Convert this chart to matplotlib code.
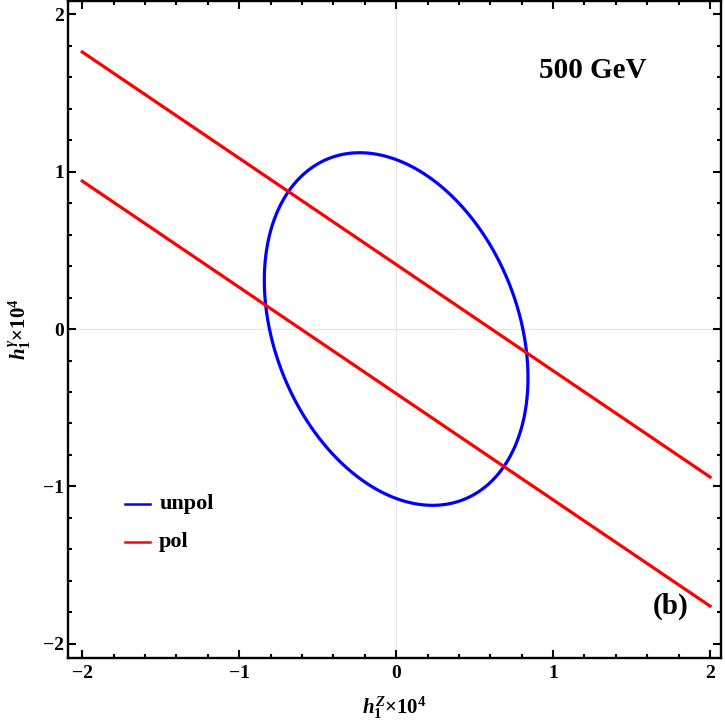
import numpy as np
import matplotlib
matplotlib.use('Agg')
import matplotlib.pyplot as plt
from matplotlib.ticker import MultipleLocator

plt.rcParams['font.family'] = ['Liberation Serif', 'DejaVu Serif']
plt.rcParams['font.weight'] = 'bold'
plt.rcParams['mathtext.fontset'] = 'custom'
plt.rcParams['mathtext.rm'] = 'Liberation Serif:bold'
plt.rcParams['mathtext.it'] = 'Liberation Serif:bold:italic'
plt.rcParams['mathtext.bf'] = 'Liberation Serif:bold'

# unpolarized 1-sigma ellipse (center, spreads, cross term)
ell_center = [0.0, 0.0]
ell_sxx = 0.84 ** 2
ell_syy = 1.12 ** 2
ell_sxy = -0.26

# polarized band edges (straight lines), endpoints at x = -2 and x = 2
pol_x = [-2.0, 2.0]
pol_upper_y = [1.76, -0.94]
pol_lower_y = [0.94, -1.76]

xticks = [-2, -1, 0, 1, 2]
yticks = [-2, -1, 0, 1, 2]

fig = plt.figure(figsize=(7.25, 7.25), dpi=100)
ax = fig.add_axes([0.094, 0.0924, 0.9005, 0.906])

ax.axhline(0, color='#e6e6e6', lw=0.8, zorder=0)
ax.axvline(0, color='#e6e6e6', lw=0.8, zorder=0)

# ellipse drawn as a contour of the quadratic form
gx = np.linspace(-2.1, 2.1, 600)
gy = np.linspace(-2.1, 2.1, 600)
X, Y = np.meshgrid(gx, gy)
S = np.array([[ell_sxx, ell_sxy], [ell_sxy, ell_syy]])
Q = np.linalg.inv(S)
dx = X - ell_center[0]
dy = Y - ell_center[1]
F = Q[0, 0] * dx ** 2 + 2 * Q[0, 1] * dx * dy + Q[1, 1] * dy ** 2
ax.contour(X, Y, F, levels=[1.0], colors=['#0000ff'], linewidths=2.3)

ax.plot(pol_x, pol_upper_y, color='#ff0000', lw=2.3)
ax.plot(pol_x, pol_lower_y, color='#ff0000', lw=2.3)

ax.set_xlim(-2.09, 2.07)
ax.set_ylim(-2.09, 2.083)
ax.set_xticks(xticks)
ax.set_yticks(yticks)
ax.set_xticklabels(['\u22122', '\u22121', '0', '1', '2'])
ax.set_yticklabels(['\u22122', '\u22121', '0', '1', '2'])
ax.xaxis.set_minor_locator(MultipleLocator(0.2))
ax.yaxis.set_minor_locator(MultipleLocator(0.2))
ax.tick_params(which='both', direction='in', top=True, right=True, width=1.5,
               labelsize=14)
ax.tick_params(which='major', length=5.5)
ax.tick_params(axis='x', which='major', pad=5)
ax.tick_params(axis='y', which='major', pad=3)
ax.tick_params(which='minor', length=2.8)
for lab in ax.get_xticklabels() + ax.get_yticklabels():
    lab.set_fontweight('bold')
for sp in ax.spines.values():
    sp.set_linewidth(1.7)

ax.set_xlabel(r'$h_{\mathrm{1}}^{Z}$$\mathrm{\times 10^{4}}$', fontsize=15)
ax.set_ylabel(r'$h_{\mathrm{1}}^{\gamma}$$\mathrm{\times 10^{4}}$', fontsize=15)
ax.xaxis.set_label_coords(0.5, -0.055)
ax.yaxis.set_label_coords(-0.054, 0.5)

ax.text(1.25, 1.64, '500 GeV', fontsize=21, fontweight='bold', ha='center', va='center')
ax.text(1.75, -1.76, '(b)', fontsize=21, fontweight='bold', ha='center', va='center')

# legend drawn by hand as in the original
ax.plot([-1.73, -1.57], [-1.11, -1.11], color='#0000ff', lw=1.8)
ax.plot([-1.73, -1.57], [-1.35, -1.35], color='#ff0000', lw=1.8)
ax.text(-1.51, -1.11, 'unpol', fontsize=16, fontweight='bold', va='center')
ax.text(-1.51, -1.35, 'pol', fontsize=16, fontweight='bold', va='center')

fig.savefig('out.png', dpi=100)
